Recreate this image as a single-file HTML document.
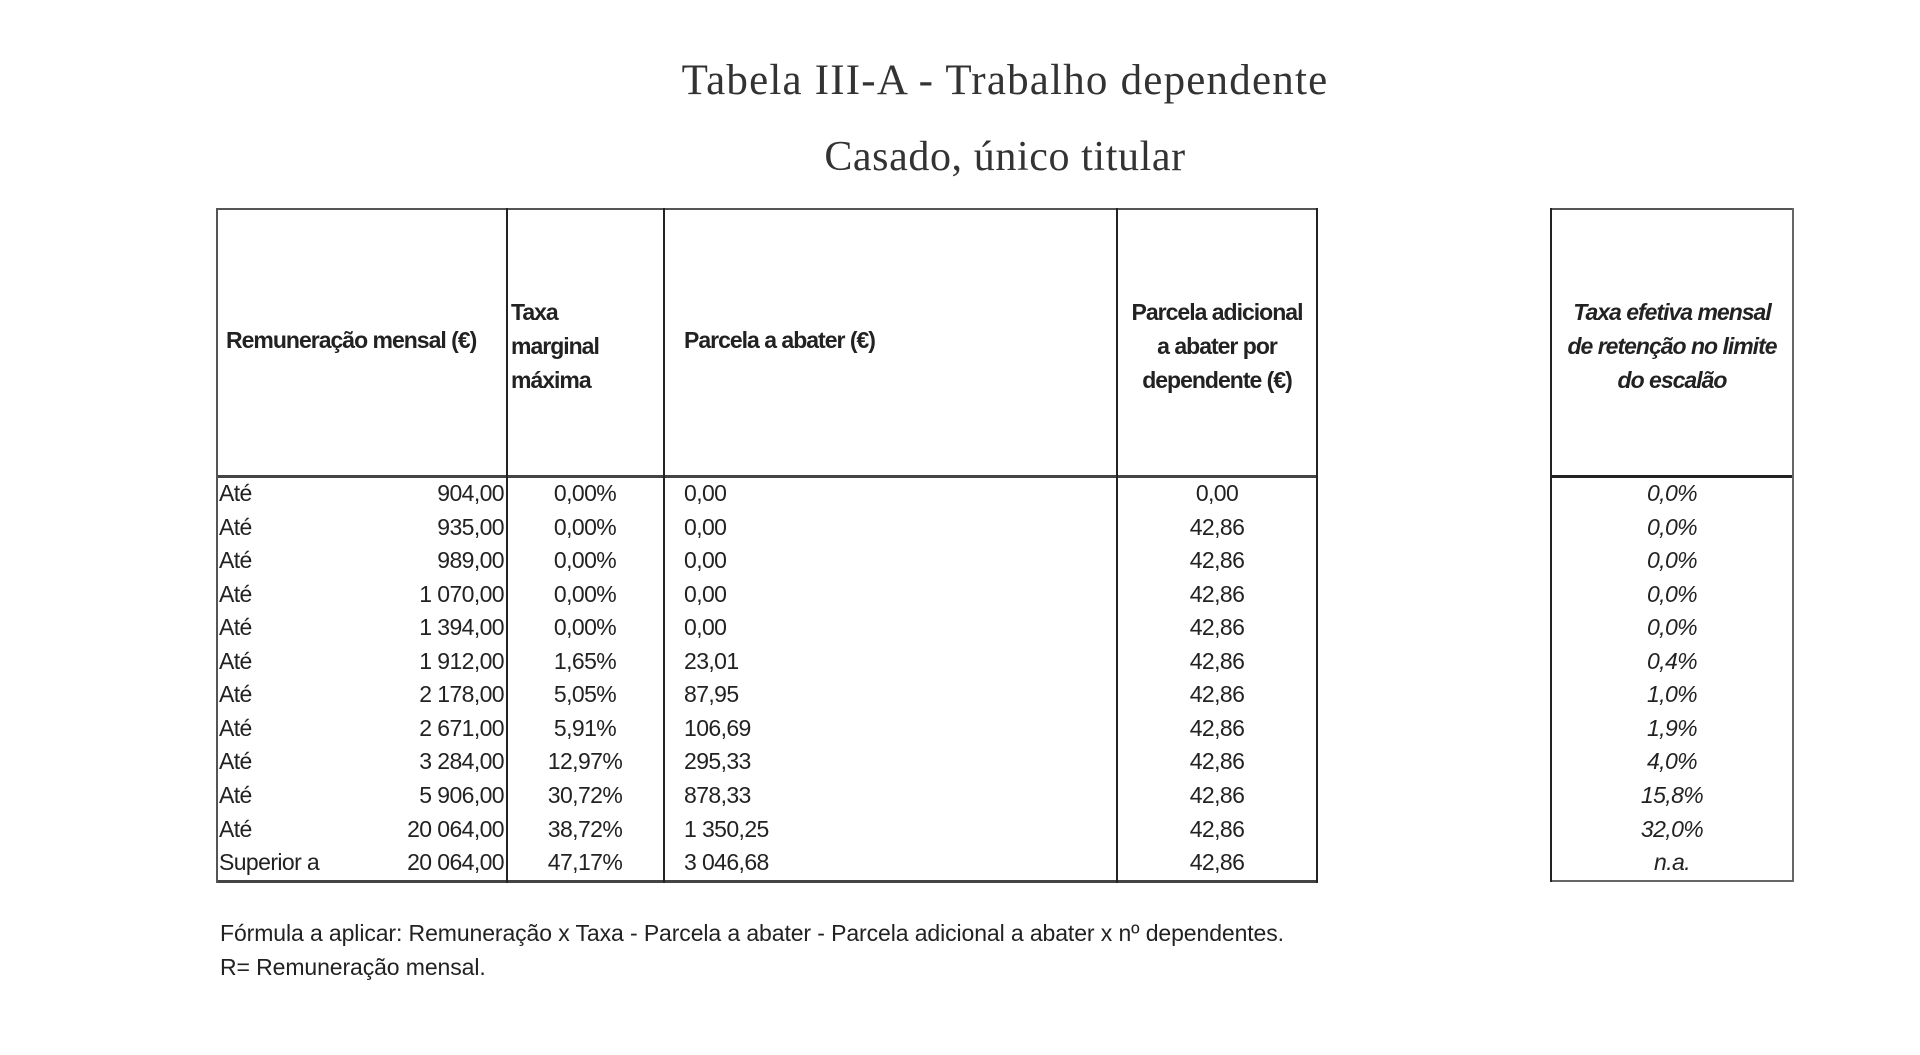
<!DOCTYPE html>
<html><head><meta charset="utf-8">
<style>
body{margin:0;width:1920px;height:1055px;background:#fff;position:relative;overflow:hidden;font-family:"Liberation Sans",sans-serif;color:#222;}
.t{position:absolute;white-space:nowrap;font-size:23px;letter-spacing:-0.6px;line-height:1;}
.serif{font-family:"Liberation Serif",serif;color:#333;}
.l{position:absolute;background:#222;}
.r{text-align:right}
.c{text-align:center}
.h{font-weight:bold;letter-spacing:-1.0px;font-size:23px;}
</style></head><body>
<div class="t serif" style="left:643px;top:59px;width:724px;text-align:center;font-size:43px;letter-spacing:1.2px">Tabela III-A - Trabalho dependente</div>
<div class="t serif" style="left:755px;top:136px;width:500px;text-align:center;font-size:42px;letter-spacing:0.6px">Casado, único titular</div>

<div class="l" style="left:216px;top:208px;width:1102px;height:2px;background:#555"></div>
<div class="l" style="left:216px;top:475px;width:1102px;height:3px;background:#444"></div>
<div class="l" style="left:216px;top:880px;width:1102px;height:3px;background:#444"></div>
<div class="l" style="left:216px;top:208px;width:2px;height:675px;background:#555"></div>
<div class="l" style="left:506px;top:208px;width:2px;height:675px"></div>
<div class="l" style="left:663px;top:208px;width:2px;height:675px"></div>
<div class="l" style="left:1116px;top:208px;width:2px;height:675px"></div>
<div class="l" style="left:1316px;top:208px;width:2px;height:675px"></div>
<div class="l" style="left:1550px;top:208px;width:244px;height:2px;background:#555"></div>
<div class="l" style="left:1550px;top:475px;width:244px;height:3px"></div>
<div class="l" style="left:1550px;top:880px;width:244px;height:2px;background:#666"></div>
<div class="l" style="left:1550px;top:208px;width:2px;height:674px"></div>
<div class="l" style="left:1792px;top:208px;width:2px;height:674px;background:#666"></div>

<div class="t h" style="left:226px;top:329px">Remuneração mensal (€)</div>
<div class="t h" style="left:511px;top:295px;line-height:34px">Taxa<br>marginal<br>máxima</div>
<div class="t h" style="left:684px;top:329px">Parcela a abater (€)</div>
<div class="t h c" style="left:1118px;width:198px;top:295px;line-height:34px">Parcela adicional<br>a abater por<br>dependente (€)</div>
<div class="t h c" style="left:1552px;width:240px;top:295px;line-height:34px;font-style:italic">Taxa efetiva mensal<br>de retenção no limite<br>do escalão</div>

<div id="rows"></div>
<script>
var d=[["Até","904,00","0,00%","0,00","0,00","0,0%"],["Até","935,00","0,00%","0,00","42,86","0,0%"],["Até","989,00","0,00%","0,00","42,86","0,0%"],["Até","1 070,00","0,00%","0,00","42,86","0,0%"],["Até","1 394,00","0,00%","0,00","42,86","0,0%"],["Até","1 912,00","1,65%","23,01","42,86","0,4%"],["Até","2 178,00","5,05%","87,95","42,86","1,0%"],["Até","2 671,00","5,91%","106,69","42,86","1,9%"],["Até","3 284,00","12,97%","295,33","42,86","4,0%"],["Até","5 906,00","30,72%","878,33","42,86","15,8%"],["Até","20 064,00","38,72%","1 350,25","42,86","32,0%"],["Superior a","20 064,00","47,17%","3 046,68","42,86","n.a."]];
var h="";
d.forEach(function(r,i){var y=482+i*33.55;
h+='<div class="t" style="left:219px;top:'+y+'px">'+r[0]+'</div>';
h+='<div class="t r" style="left:380px;width:124px;top:'+y+'px">'+r[1]+'</div>';
h+='<div class="t c" style="left:525px;width:120px;top:'+y+'px">'+r[2]+'</div>';
h+='<div class="t" style="left:684px;top:'+y+'px">'+r[3]+'</div>';
h+='<div class="t c" style="left:1118px;width:198px;top:'+y+'px">'+r[4]+'</div>';
h+='<div class="t c" style="left:1552px;width:240px;top:'+y+'px;font-style:italic">'+r[5]+'</div>';});
document.getElementById("rows").innerHTML=h;
</script>
<div class="t" style="left:220px;top:922px;letter-spacing:-0.1px">Fórmula a aplicar: Remuneração x Taxa - Parcela a abater - Parcela adicional a abater x nº dependentes.</div>
<div class="t" style="left:220px;top:956px;letter-spacing:-0.1px">R= Remuneração mensal.</div>
</body></html>
